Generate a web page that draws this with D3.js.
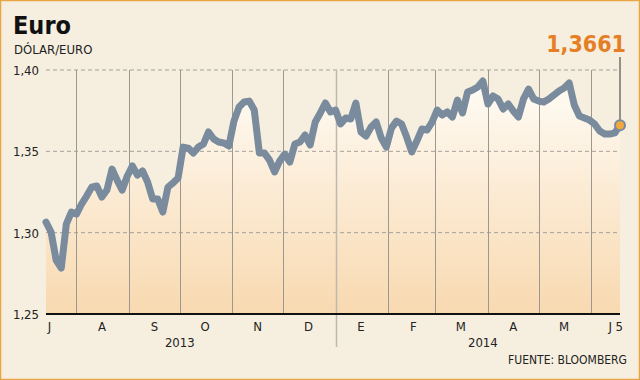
<!DOCTYPE html>
<html>
<head>
<meta charset="utf-8">
<script src="https://cdn.jsdelivr.net/npm/d3@7"></script>
<style>
  html, body { margin: 0; padding: 0; background: #f6efdf; }
  svg { display: block; font-family: "DejaVu Sans Condensed", "DejaVu Sans", sans-serif; font-stretch: condensed; }
</style>
</head>
<body>
<svg id="chart" width="640" height="380"></svg>
<script>
// euro/dollar, one reading every 3 days from 14 Jul 2013
const startDate = new Date(2013, 6, 14)
const stepDays = 3
const euroValues = [
  1.3065, 1.3004, 1.2831, 1.2782, 1.3053, 1.3127, 1.3114, 1.3176, 1.3225, 1.3280,
  1.3287, 1.3219, 1.3262, 1.3391, 1.3323, 1.3262, 1.3348, 1.3410, 1.3354, 1.3379,
  1.3311, 1.3207, 1.3207, 1.3127, 1.3280, 1.3305, 1.3336, 1.3526, 1.3520, 1.3490,
  1.3526, 1.3545, 1.3619, 1.3576, 1.3557, 1.3551, 1.3533, 1.3686, 1.3772, 1.3803,
  1.3809, 1.3754, 1.3490, 1.3490, 1.3446, 1.3373, 1.3440, 1.3483, 1.3434, 1.3545,
  1.3557, 1.3600, 1.3539, 1.3680, 1.3736, 1.3797, 1.3742, 1.3754, 1.3668, 1.3705,
  1.3699, 1.3797, 1.3619, 1.3594, 1.3649, 1.3680, 1.3582, 1.3526, 1.3643, 1.3686,
  1.3668, 1.3588, 1.3496, 1.3563, 1.3637, 1.3631, 1.3680, 1.3754, 1.3723, 1.3742,
  1.3711, 1.3815, 1.3736, 1.3865, 1.3877, 1.3895, 1.3932, 1.3791, 1.3840, 1.3822,
  1.3760, 1.3791, 1.3748, 1.3711, 1.3822, 1.3883, 1.3822, 1.3809, 1.3803, 1.3822,
  1.3846, 1.3871, 1.3889, 1.3920, 1.3785, 1.3717, 1.3705, 1.3692, 1.3668, 1.3625,
  1.3606, 1.3606, 1.3613, 1.3661
]
const yTicks = [1.25, 1.30, 1.35, 1.40]
const monthLabels = ['J', 'A', 'S', 'O', 'N', 'D', 'E', 'F', 'M', 'A', 'M', 'J 5']
const yearLabels = ['2013', '2014']
const yearCenters = [new Date(2013, 9, 1), new Date(2014, 2, 29)]
const lastLabel = '1,3661'

const data = euroValues.map((v, i) => ({ date: d3.timeDay.offset(startDate, i * stepDays), value: v }))

const svg = d3.select('#chart')
const plotLeft = 46, plotRight = 620, plotTop = 70, plotBottom = 314

const x = d3.scaleTime().domain(d3.extent(data, d => d.date)).range([plotLeft, plotRight])
const y = d3.scaleLinear().domain([1.25, 1.40]).range([plotBottom, plotTop])
const fmt = d3.format('.2f')
const comma = s => s.replace('.', ',')

// frame
svg.append('rect')
  .attr('x', 0.5).attr('y', 0.5).attr('width', 639).attr('height', 379)
  .attr('fill', '#f6efdf').attr('stroke', '#e9a544').attr('stroke-width', 1.5)

const defs = svg.append('defs')
const grad = defs.append('linearGradient')
  .attr('id', 'fillGrad').attr('gradientUnits', 'userSpaceOnUse')
  .attr('x1', 0).attr('x2', 0).attr('y1', plotTop).attr('y2', plotBottom)
grad.append('stop').attr('offset', '0%').attr('stop-color', '#fffdf8')
grad.append('stop').attr('offset', '100%').attr('stop-color', '#f8d9b0')

// area under the line
const area = d3.area().x(d => x(d.date)).y0(plotBottom).y1(d => y(d.value))
svg.append('path').datum(data).attr('d', area).attr('fill', 'url(#fillGrad)')

// horizontal dashed grid
svg.append('g').selectAll('line')
  .data(yTicks.filter(t => t > 1.25))
  .join('line')
  .attr('x1', plotLeft).attr('x2', plotRight)
  .attr('y1', d => y(d)).attr('y2', d => y(d))
  .attr('stroke', '#a5a09a').attr('stroke-dasharray', '4,3')

// month separators
const monthStarts = d3.timeMonth.range(new Date(2013, 7, 1), new Date(2014, 6, 1))
svg.append('g').selectAll('line')
  .data(monthStarts)
  .join('line')
  .attr('x1', d => Math.round(x(d)) + 0.5).attr('x2', d => Math.round(x(d)) + 0.5)
  .attr('y1', plotTop).attr('y2', d => d.getMonth() === 0 ? 347 : plotBottom)
  .attr('stroke', d => d.getMonth() === 0 ? '#bdb8b0' : '#9c9890')
  .attr('stroke-width', d => d.getMonth() === 0 ? 1.5 : 1)

// baseline
svg.append('line')
  .attr('x1', plotLeft).attr('x2', plotRight)
  .attr('y1', plotBottom).attr('y2', plotBottom)
  .attr('stroke', '#111').attr('stroke-width', 2)

// y labels
svg.append('g').selectAll('text')
  .data(yTicks)
  .join('text')
  .attr('x', 39).attr('y', d => y(d) + 5)
  .attr('text-anchor', 'end')
  .attr('font-size', 13).attr('fill', '#222')
  .text(d => comma(fmt(d)))

// month labels
const labelDates = d3.timeMonth.range(new Date(2013, 6, 1), new Date(2014, 5, 1)).map(d => d3.timeDay.offset(d, 15))
svg.append('g').selectAll('text')
  .data(monthLabels)
  .join('text')
  .attr('x', (d, i) => i < labelDates.length ? x(labelDates[i]) : plotRight + 3)
  .attr('y', 331)
  .attr('text-anchor', (d, i) => i < labelDates.length ? 'middle' : 'end')
  .attr('font-size', 13).attr('fill', '#222')
  .text(d => d)

svg.append('g').selectAll('text')
  .data(yearLabels)
  .join('text')
  .attr('x', (d, i) => x(yearCenters[i]))
  .attr('y', 347)
  .attr('text-anchor', 'middle')
  .attr('font-size', 13).attr('fill', '#222')
  .text(d => d)

// the line
const line = d3.line().x(d => x(d.date)).y(d => y(d.value))
svg.append('path').datum(data)
  .attr('d', line)
  .attr('fill', 'none')
  .attr('stroke', '#798b9d').attr('stroke-width', 7)
  .attr('stroke-linejoin', 'round').attr('stroke-linecap', 'round')

// last value marker
const last = data[data.length - 1]
svg.append('line')
  .attr('x1', x(last.date)).attr('x2', x(last.date))
  .attr('y1', 57).attr('y2', y(last.value) - 5)
  .attr('stroke', '#333').attr('stroke-width', 1)
svg.append('circle')
  .attr('cx', x(last.date)).attr('cy', y(last.value)).attr('r', 5)
  .attr('fill', '#f2a93b').attr('stroke', '#798b9d').attr('stroke-width', 2)
svg.append('text')
  .attr('x', 626).attr('y', 52)
  .attr('text-anchor', 'end')
  .attr('font-size', 23).attr('font-weight', 'bold').attr('fill', '#e57f26')
  .text(lastLabel)

// titles
svg.append('text')
  .attr('x', 13).attr('y', 34)
  .attr('font-size', 25).attr('font-weight', 'bold').attr('fill', '#111')
  .text('Euro')
svg.append('text')
  .attr('x', 14).attr('y', 54)
  .attr('font-size', 13).attr('fill', '#222')
  .text('DÓLAR/EURO')
svg.append('text')
  .attr('x', 627).attr('y', 364)
  .attr('text-anchor', 'end')
  .attr('font-size', 12).attr('fill', '#222')
  .text('FUENTE: BLOOMBERG')
</script>
</body>
</html>
